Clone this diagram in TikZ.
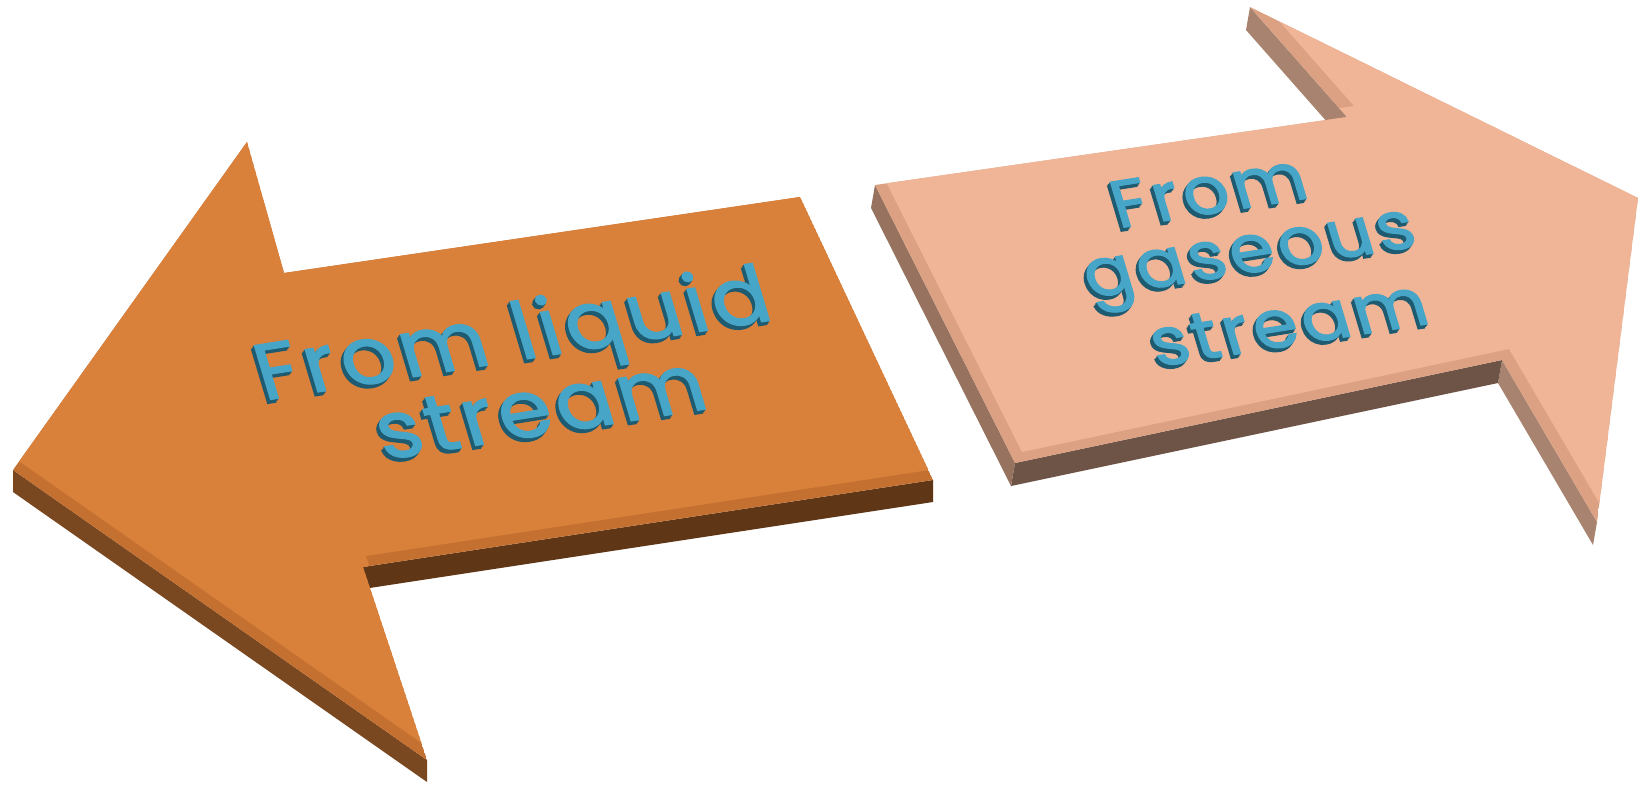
\documentclass[tikz,border=0pt]{standalone}
\usepackage{fontspec}
\newfontfamily\popfont[LetterSpace=6,FakeBold=1.6]{Poppins}
\definecolor{orFace}{HTML}{D9803A}
\definecolor{orBevel}{HTML}{C47031}
\definecolor{orSideA}{HTML}{7A4820}
\definecolor{orSideB}{HTML}{603716}
\definecolor{peFace}{HTML}{F0B596}
\definecolor{peBevel}{HTML}{DCA183}
\definecolor{peSideA}{HTML}{A88470}
\definecolor{peSideB}{HTML}{6E5446}
\definecolor{peSideC}{HTML}{97735F}
\definecolor{tFace}{HTML}{47A6C8}
\definecolor{tDark}{HTML}{1F5B70}
\newcommand\orpath{(13,470) -- (247,142) -- (284,273) -- (800,197) -- (933,480) -- (363,567) -- (427,760) -- cycle}
\newcommand\pepath{(875,185) -- (1347,117) -- (1250,7) -- (1638,198) -- (1597,522) -- (1502,360) -- (1015,463) -- cycle}
\tikzset{
  tcm/.style={cm={1.087,0.172,-0.30,1,(0,0)}},
  txt/.style={transform shape, anchor=base, inner sep=0pt},
  orfont/.style={font=\popfont\fontsize{22}{26}\selectfont},
  pefont/.style={font=\popfont\fontsize{18.5}{22}\selectfont}
}
\newcommand\tdline[5]{%
  \foreach \k in {3,2,1}{%
    \begin{scope}[shift={({#2-0.95*\k},{#3+1.3*\k})}, tcm]
      \node[txt, #4, text=tDark] (#1s\k) at (0,0) {#5};
    \end{scope}
  }%
  \begin{scope}[shift={(#2,#3)}, tcm]
    \node[txt, #4, text=tFace] (#1) at (0,0) {#5};
  \end{scope}
}
\begin{document}
\begin{tikzpicture}[x=0.01cm,y=-0.01cm]
\useasboundingbox (0,0) rectangle (1646,784);
\fill[white] (0,0) rectangle (1646,784);
% orange arrow sides
\fill[orSideB] (933,480) -- (363,567) -- (363,589) -- (933,502) -- cycle;
\fill[orSideA] (427,760) -- (13,470) -- (13,492) -- (427,782) -- cycle;
% orange face with bevel
\begin{scope}
  \clip \orpath;
  \fill[orBevel] \orpath;
  \fill[orFace, shift={(3,-11)}] \orpath;
\end{scope}
% peach arrow sides
\fill[peSideA] (1347,117) -- (1250,7) -- (1246,30) -- (1343,140) -- cycle;
\fill[peSideA] (1597,522) -- (1502,360) -- (1498,383) -- (1593,545) -- cycle;
\fill[peSideB] (1502,360) -- (1015,463) -- (1011,486) -- (1498,383) -- cycle;
\fill[peSideC] (1015,463) -- (875,185) -- (871,208) -- (1011,486) -- cycle;
% peach face with bevel
\begin{scope}
  \clip \pepath;
  \fill[peBevel] \pepath;
  \fill[peFace, shift={(7,-11)}] \pepath;
\end{scope}
% texts
\tdline{liqA}{520}{360}{orfont}{From liquid}
\tdline{liqB}{548}{434}{orfont}{stream}
\tdline{gasA}{1215}{213}{pefont}{From}
\tdline{gasB}{1255}{272}{pefont}{gaseous}
\tdline{gasC}{1295}{345}{pefont}{stream}
\end{tikzpicture}
\end{document}
